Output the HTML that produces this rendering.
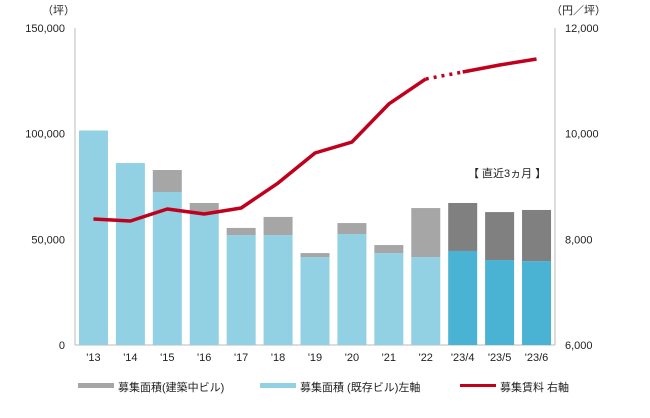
<!DOCTYPE html>
<html><head><meta charset="utf-8"><style>
body{margin:0;background:#fff;}
svg text{font-family:"Liberation Sans","Noto Sans CJK JP",sans-serif;font-size:11px;fill:#222;}
</style></head><body>
<svg id="chart" width="650" height="413"></svg>
<script>
const categories=["'13","'14","'15","'16","'17","'18","'19","'20","'21","'22","'23/4","'23/5","'23/6"];
const existingArea=[101500,86100,72400,62000,52000,52000,41600,52500,43500,41600,44500,40200,39700];
const constructionArea=[0,0,10400,5200,3400,8600,1900,5200,3800,23200,22700,22700,24200];
const rentValues=[8385,8347,8574,8480,8593,9066,9634,9842,10562,11035,11167,11300,11413];
const leftTicks=[0,50000,100000,150000];
const rightTicks=[6000,8000,10000,12000];
const recentStart=10;

const svg=document.getElementById('chart');
const NS='http://www.w3.org/2000/svg';
const L=75,R=555,T=28,B=345;
const yL=v=>B-(v/150000)*(B-T);
const yR=v=>B-((v-6000)/6000)*(B-T);
const step=(R-L)/categories.length;
const xC=i=>L+step*(i+0.5);
function mk(tag,attrs,parent){const e=document.createElementNS(NS,tag);for(const k in attrs)e.setAttribute(k,attrs[k]);(parent||svg).appendChild(e);return e;}

let ax=mk('line',{x1:L,y1:T,x2:L,y2:B,stroke:'#bbb'});

let ax2=mk('line',{x1:R,y1:T,x2:R,y2:B,stroke:'#bbb'});

let ax3=mk('line',{x1:L,y1:B,x2:R,y2:B,stroke:'#bbb'});


leftTicks.forEach(v=>{let t=mk('text',{x:L-10,y:yL(v)+4,'text-anchor':'end'});t.textContent=v.toLocaleString('en-US');
});
rightTicks.forEach(v=>{let t=mk('text',{x:R+10,y:yR(v)+4,'text-anchor':'start'});t.textContent=v.toLocaleString('en-US');
});
let u1=mk('text',{x:42,y:14});u1.textContent='（坪）';

let u2=mk('text',{x:551,y:14});u2.textContent='（円／坪）';


const bw=29;
categories.forEach((c,i)=>{
  const recent=i>=recentStart;
  let b1=mk('rect',{x:xC(i)-bw/2,y:yL(existingArea[i]),width:bw,height:B-yL(existingArea[i]),fill:recent?'#4ab2d3':'#92d0e3'});
  
  const tot=existingArea[i]+constructionArea[i];
  let b2=mk('rect',{x:xC(i)-bw/2,y:yL(tot),width:bw,height:yL(existingArea[i])-yL(tot),fill:recent?'#808080':'#a6a6a6'});
  
  let t=mk('text',{x:xC(i),y:B+16,'text-anchor':'middle'});t.textContent=c;
  
});

let pts1=rentValues.slice(0,recentStart).map((v,i)=>xC(i)+','+yR(v)).join(' ');
let l1=mk('polyline',{points:pts1,fill:'none',stroke:'#c0001c','stroke-width':3.5,'stroke-linejoin':'round'});

let l2=mk('line',{x1:xC(recentStart-1),y1:yR(rentValues[recentStart-1]),x2:xC(recentStart),y2:yR(rentValues[recentStart]),stroke:'#c0001c','stroke-width':3.5,'stroke-dasharray':'3 5'});

let pts3=rentValues.slice(recentStart).map((v,j)=>xC(j+recentStart)+','+yR(v)).join(' ');
let l3=mk('polyline',{points:pts3,fill:'none',stroke:'#c0001c','stroke-width':3.5,'stroke-linejoin':'round'});


let an=mk('text',{x:468,y:177});an.textContent='【 直近3ヵ月 】';


const lg=[[78,'#a6a6a6','募集面積(建築中ビル)',false],[260,'#92d0e3','募集面積 (既存ビル)左軸',false],[460,'#c0001c','募集賃料 右軸',true]];
lg.forEach(([x,c,txt,line])=>{
  let s=mk('rect',{x:x,y:line?384:383,width:36,height:line?3:5,fill:c});
  
  let t=mk('text',{x:x+40,y:391});t.textContent=txt;
  
});
</script>
</body></html>
